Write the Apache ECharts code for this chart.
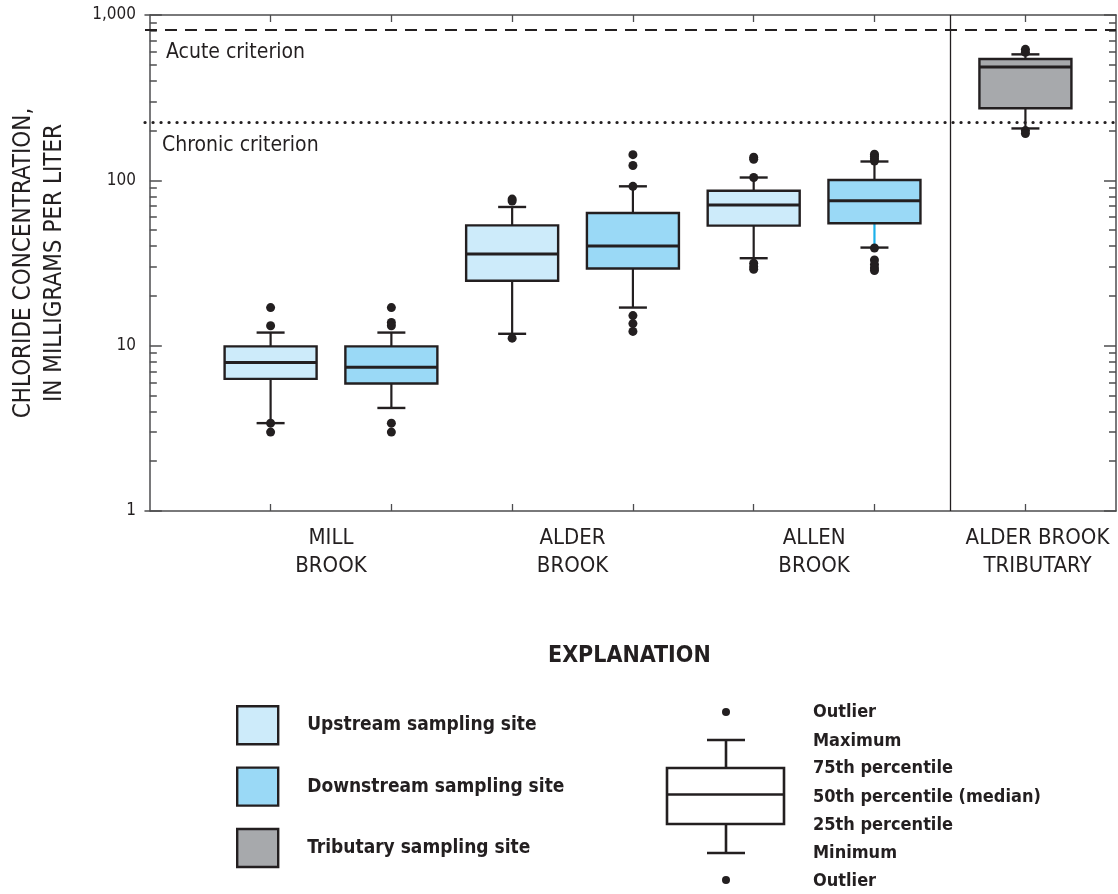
<!DOCTYPE html>
<html>
<head>
<meta charset="utf-8">
<script src="https://cdn.jsdelivr.net/npm/echarts@6/dist/echarts.min.js"></script>
<style>
  html, body { margin: 0; padding: 0; background: #ffffff; }
  #chart { width: 1118px; height: 894px; }
</style>
</head>
<body>
<div id="chart"></div>
<script>
// ---------------- DATA ----------------
var streams = ['MILL\nBROOK', 'ALDER\nBROOK', 'ALLEN\nBROOK'];
var tributaryName = 'ALDER BROOK\nTRIBUTARY';
// [minimum, 25th, median, 75th, maximum]
var upstreamStats = [
  [3.4, 6.3, 7.9, 9.9, 12.0],
  [11.8, 24.7, 35.9, 53.4, 69],
  [33.8, 53.2, 71, 86.5, 104]
];
var downstreamStats = [
  [4.2, 5.9, 7.4, 9.9, 12.0],
  [17.0, 29.3, 40.1, 63.5, 92],
  [39.2, 55, 75.3, 100.4, 130]
];
var tributaryStats = [
  [206, 273, 485, 542, 578]
];
var upstreamOutliers = [
  [17.0, 13.2, 3.4, 3.0],
  [77, 75, 11.1],
  [138, 134, 104, 31.5, 30, 29]
];
var downstreamOutliers = [
  [17.0, 13.8, 13.2, 3.4, 3.0],
  [143, 123, 92, 15.2, 13.6, 12.2],
  [144, 140, 135, 131, 39, 33, 31, 29.5, 28.5]
];
var tributaryOutliers = [
  [620, 595, 200, 192]
];
var acuteCriterion = 810;
var chronicCriterion = 225;
var yMajorTicks = [1, 10, 100, 1000];
var yMinorTicks = [2,3,4,5,6,7,8,9,20,30,40,50,60,70,80,90,200,300,400,500,600,700,800,900];
var seriesNames = ['Upstream sampling site', 'Downstream sampling site', 'Tributary sampling site'];
var explanationLabels = ['Outlier', 'Maximum', '75th percentile', '50th percentile (median)', '25th percentile', 'Minimum', 'Outlier'];

// ---------------- LAYOUT / STYLE ----------------
var FONT = "'DejaVu Sans Condensed', 'Liberation Sans Narrow', sans-serif";
var INK = '#231f20';
var COLORS = ['#cdebfa', '#9ad9f6', '#a7a9ac'];
var TRIB_POS = 7.25;
var DIVIDER_POS = 6.63;
var BOX_W = 92;
var CAP_W = 28;

function upPos(i) { return 2 * i + 1; }
function downPos(i) { return 2 * i + 2; }

var upBoxes = upstreamStats.map(function (s, i) { return [upPos(i)].concat(s); });
var downBoxes = downstreamStats.map(function (s, i) { return [downPos(i)].concat(s); });
var tribBoxes = tributaryStats.map(function (s) { return [TRIB_POS].concat(s); });

var outlierPts = [];
upstreamOutliers.forEach(function (arr, i) { arr.forEach(function (v) { outlierPts.push([upPos(i), v]); }); });
downstreamOutliers.forEach(function (arr, i) { arr.forEach(function (v) { outlierPts.push([downPos(i), v]); }); });
tributaryOutliers.forEach(function (arr) { arr.forEach(function (v) { outlierPts.push([TRIB_POS, v]); }); });

var boxPositions = [];
streams.forEach(function (s, i) { boxPositions.push(upPos(i), downPos(i)); });
boxPositions.push(TRIB_POS);
var labelPositions = [1.5, 3.5, 5.5, 7.35];
var labelTexts = streams.concat([tributaryName]);

function makeRender(fill, seriesKind) {
  return function (params, api) {
    var x = api.value(0);
    var mn = api.coord([x, api.value(1)]);
    var q1 = api.coord([x, api.value(2)]);
    var md = api.coord([x, api.value(3)]);
    var q3 = api.coord([x, api.value(4)]);
    var mx = api.coord([x, api.value(5)]);
    var cx = mn[0];
    var hw = BOX_W / 2, hc = CAP_W / 2;
    var lowWhiskerColor = (seriesKind === 'down' && params.dataIndex === 2) ? '#1cb0ea' : INK;
    return {
      type: 'group',
      children: [
        { type: 'line', shape: { x1: cx, y1: q3[1], x2: cx, y2: mx[1] }, style: { stroke: INK, lineWidth: 2.2 } },
        { type: 'line', shape: { x1: cx, y1: q1[1], x2: cx, y2: mn[1] }, style: { stroke: lowWhiskerColor, lineWidth: 2.2 } },
        { type: 'line', shape: { x1: cx - hc, y1: mx[1], x2: cx + hc, y2: mx[1] }, style: { stroke: INK, lineWidth: 2.4 } },
        { type: 'line', shape: { x1: cx - hc, y1: mn[1], x2: cx + hc, y2: mn[1] }, style: { stroke: INK, lineWidth: 2.4 } },
        { type: 'rect', shape: { x: cx - hw, y: q3[1], width: BOX_W, height: q1[1] - q3[1] }, style: { fill: fill, stroke: INK, lineWidth: 2.4 } },
        { type: 'line', shape: { x1: cx - hw, y1: md[1], x2: cx + hw, y2: md[1] }, style: { stroke: INK, lineWidth: 3 } }
      ]
    };
  };
}

function yAxisDef(pos, ticks, len, showLine, showLabel) {
  return {
    type: 'log', logBase: 10, min: 1, max: 1000, position: pos,
    axisLine: { show: showLine, lineStyle: { color: '#4d4d4f', width: 1.5 } },
    axisTick: { show: true, inside: true, length: len, customValues: ticks, lineStyle: { color: '#4d4d4f', width: 1.5 } },
    axisLabel: {
      show: showLabel, customValues: yMajorTicks, margin: 9,
      color: INK, fontSize: 17, fontFamily: FONT,
      formatter: function (v) { return v >= 1000 ? '1,000' : String(Math.round(v)); }
    },
    splitLine: { show: false }, minorTick: { show: false }
  };
}
function xAxisDef(pos, showLabel) {
  return {
    type: 'value', min: -0.04, max: 8, position: pos,
    axisLine: { show: true, onZero: false, lineStyle: { color: '#4d4d4f', width: 1.5 } },
    axisTick: { show: true, inside: true, length: 7, customValues: boxPositions, lineStyle: { color: '#4d4d4f', width: 1.3 } },
    axisLabel: {
      show: showLabel, customValues: labelPositions, margin: 13,
      color: INK, fontSize: 22, lineHeight: 28, fontFamily: FONT, align: 'center',
      formatter: function (v) {
        var i = labelPositions.indexOf(v);
        return i >= 0 ? labelTexts[i] : '';
      }
    },
    splitLine: { show: false }
  };
}

var chart = echarts.init(document.getElementById('chart'), null, { renderer: 'canvas' });
var explanationGraphics = [];
var ex = 726, lx = 813;
var rowsY = [712, 741, 768, 797, 825, 853, 881];
explanationLabels.forEach(function (t, i) {
  explanationGraphics.push({ type: 'text', left: lx, top: rowsY[i] - 9, style: { text: t, fill: INK, font: 'bold 18px ' + FONT } });
});
explanationGraphics.push(
  { type: 'circle', shape: { cx: ex, cy: 712, r: 4 }, style: { fill: INK } },
  { type: 'line', shape: { x1: ex - 19, y1: 740, x2: ex + 19, y2: 740 }, style: { stroke: INK, lineWidth: 2.6 } },
  { type: 'line', shape: { x1: ex, y1: 740, x2: ex, y2: 768 }, style: { stroke: INK, lineWidth: 2.6 } },
  { type: 'rect', shape: { x: 667, y: 768, width: 117, height: 56 }, style: { fill: '#fff', stroke: INK, lineWidth: 2.6 } },
  { type: 'line', shape: { x1: 667, y1: 794.5, x2: 784, y2: 794.5 }, style: { stroke: INK, lineWidth: 2.6 } },
  { type: 'line', shape: { x1: ex, y1: 824, x2: ex, y2: 853 }, style: { stroke: INK, lineWidth: 2.6 } },
  { type: 'line', shape: { x1: ex - 19, y1: 853, x2: ex + 19, y2: 853 }, style: { stroke: INK, lineWidth: 2.6 } },
  { type: 'circle', shape: { cx: ex, cy: 880, r: 4 }, style: { fill: INK } },
  { type: 'text', left: 548, top: 645, style: { text: 'EXPLANATION', fill: INK, font: 'bold 23px ' + FONT } }
);

var option = {
  backgroundColor: '#ffffff',
  animation: false,
  textStyle: { fontFamily: FONT },
  grid: { left: 145, right: 2, top: 15, bottom: 383, containLabel: false, outerBoundsMode: 'none' },
  xAxis: [xAxisDef('bottom', true), xAxisDef('top', false)],
  yAxis: [
    Object.assign(yAxisDef('left', yMajorTicks, 12, true, true), {
      name: 'CHLORIDE CONCENTRATION,\nIN MILLIGRAMS PER LITER',
      nameLocation: 'middle', nameRotate: 90, nameGap: 75,
      nameTextStyle: { color: INK, fontSize: 24, lineHeight: 31, fontFamily: FONT, align: 'center' }
    }),
    yAxisDef('left', yMinorTicks, 7, false, false),
    yAxisDef('right', yMajorTicks, 12, true, false),
    yAxisDef('right', yMinorTicks, 7, false, false)
  ],
  legend: {
    orient: 'vertical', left: 231, top: 700,
    itemWidth: 41, itemHeight: 38, itemGap: 21,
    selectedMode: false,
    textStyle: { color: INK, fontSize: 19, fontWeight: 'bold', fontFamily: FONT, padding: [0, 0, 0, 24] },
    data: seriesNames.map(function (n, i) {
      return { name: n, icon: 'rect', itemStyle: { color: COLORS[i], borderColor: INK, borderWidth: 2.4 } };
    })
  },
  graphic: explanationGraphics,
  series: [
    { name: seriesNames[0], type: 'custom', renderItem: makeRender(COLORS[0], 'up'), data: upBoxes, encode: { x: 0, y: [1, 2, 3, 4, 5] }, z: 3 },
    { name: seriesNames[1], type: 'custom', renderItem: makeRender(COLORS[1], 'down'), data: downBoxes, encode: { x: 0, y: [1, 2, 3, 4, 5] }, z: 3 },
    { name: seriesNames[2], type: 'custom', renderItem: makeRender(COLORS[2], 'trib'), data: tribBoxes, encode: { x: 0, y: [1, 2, 3, 4, 5] }, z: 3 },
    {
      name: 'Outliers', type: 'scatter', data: outlierPts, symbol: 'circle', symbolSize: 9,
      itemStyle: { color: INK, opacity: 1 }, z: 5,
      markLine: {
        silent: true, symbol: 'none', animation: false,
        data: [
          { yAxis: acuteCriterion, lineStyle: { type: [12, 8], color: INK, width: 2.2 },
            label: { show: true, position: 'insideStartBottom', formatter: 'Acute criterion', distance: [21, 12], color: INK, fontSize: 21, fontFamily: FONT } },
          { yAxis: chronicCriterion, lineStyle: { type: [0.1, 7.9], cap: 'round', color: INK, width: 3.2 },
            label: { show: true, position: 'insideStartBottom', formatter: 'Chronic criterion', distance: [17, 13], color: INK, fontSize: 21, fontFamily: FONT } },
          { xAxis: DIVIDER_POS, lineStyle: { type: 'solid', color: INK, width: 1.3 }, label: { show: false } }
        ]
      }
    }
  ]
};
chart.setOption(option);
</script>
</body>
</html>
